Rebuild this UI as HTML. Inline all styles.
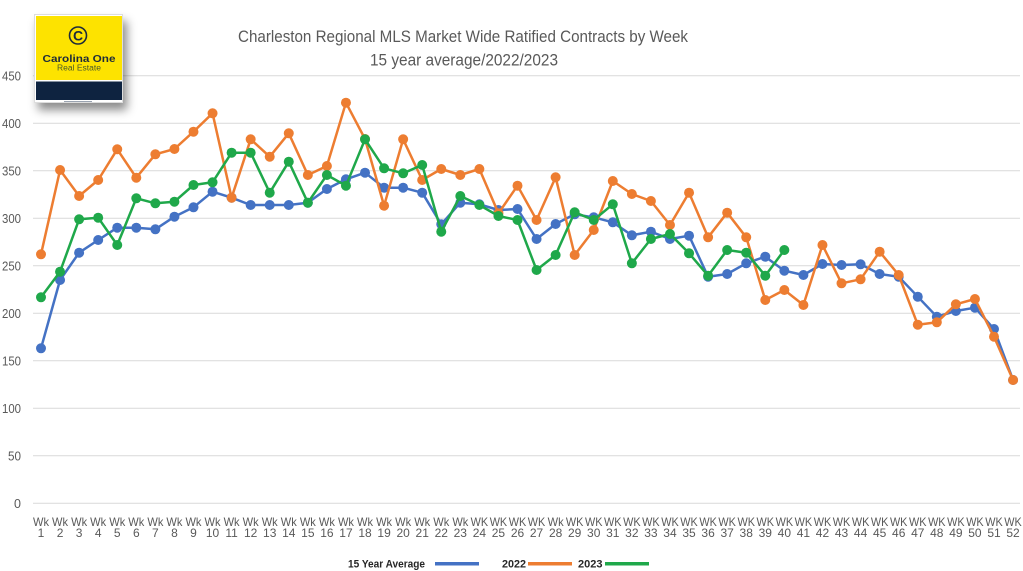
<!DOCTYPE html>
<html><head><meta charset="utf-8"><style>
html,body{margin:0;padding:0;background:#fff;}
body{width:1023px;height:571px;overflow:hidden;position:relative;font-family:"Liberation Sans",sans-serif;}
svg{position:absolute;left:0;top:0;}
.logo{position:absolute;left:34px;top:14px;width:89px;height:89px;background:#fff;box-shadow:4px 7px 9px rgba(0,0,0,0.45);border:1px solid #ddd;box-sizing:border-box;}
</style></head><body>
<svg width="1023" height="571" viewBox="0 0 1023 571" xmlns="http://www.w3.org/2000/svg">
<defs>
<marker id="mb" markerUnits="userSpaceOnUse" markerWidth="12" markerHeight="12" refX="6" refY="6" overflow="visible"><circle cx="6" cy="6" r="5" fill="#4472C4"/></marker>
<marker id="mo" markerUnits="userSpaceOnUse" markerWidth="12" markerHeight="12" refX="6" refY="6" overflow="visible"><circle cx="6" cy="6" r="5" fill="#ED7D31"/></marker>
<marker id="mg" markerUnits="userSpaceOnUse" markerWidth="12" markerHeight="12" refX="6" refY="6" overflow="visible"><circle cx="6" cy="6" r="5" fill="#1FA84A"/></marker>
</defs>
<g stroke="#d9d9d9" stroke-width="1">
<line x1="33" x2="1020" y1="75.8" y2="75.8"/>
<line x1="33" x2="1020" y1="123.3" y2="123.3"/>
<line x1="33" x2="1020" y1="170.8" y2="170.8"/>
<line x1="33" x2="1020" y1="218.3" y2="218.3"/>
<line x1="33" x2="1020" y1="265.8" y2="265.8"/>
<line x1="33" x2="1020" y1="313.3" y2="313.3"/>
<line x1="33" x2="1020" y1="360.8" y2="360.8"/>
<line x1="33" x2="1020" y1="408.3" y2="408.3"/>
<line x1="33" x2="1020" y1="455.8" y2="455.8"/>
<line x1="33" x2="1020" y1="503.3" y2="503.3"/>
</g>
<g font-size="12.5" fill="#595959" text-anchor="end">
<text x="21" y="80.3" textLength="19" lengthAdjust="spacingAndGlyphs">450</text>
<text x="21" y="127.8" textLength="19" lengthAdjust="spacingAndGlyphs">400</text>
<text x="21" y="175.3" textLength="19" lengthAdjust="spacingAndGlyphs">350</text>
<text x="21" y="222.8" textLength="19" lengthAdjust="spacingAndGlyphs">300</text>
<text x="21" y="270.3" textLength="19" lengthAdjust="spacingAndGlyphs">250</text>
<text x="21" y="317.8" textLength="19" lengthAdjust="spacingAndGlyphs">200</text>
<text x="21" y="365.3" textLength="19" lengthAdjust="spacingAndGlyphs">150</text>
<text x="21" y="412.8" textLength="19" lengthAdjust="spacingAndGlyphs">100</text>
<text x="21" y="460.3" textLength="13" lengthAdjust="spacingAndGlyphs">50</text>
<text x="21" y="507.8">0</text>
</g>
<g fill="#595959" text-anchor="middle">
<text x="463" y="42" font-size="17" textLength="450" lengthAdjust="spacingAndGlyphs">Charleston Regional MLS Market Wide Ratified Contracts by Week</text>
<text x="464" y="65.7" font-size="17" textLength="188" lengthAdjust="spacingAndGlyphs">15 year average/2022/2023</text>
</g>
<g fill="none" stroke-width="2.5" stroke-linejoin="round">
<polyline stroke="#4472C4" marker-start="url(#mb)" marker-mid="url(#mb)" marker-end="url(#mb)" points="41,348.3 60.06,280 79.12,252.7 98.18,240 117.24,227.7 136.3,227.7 155.36,229.3 174.42,216.7 193.48,207.3 212.54,191.7 231.6,197.7 250.66,205 269.72,205 288.78,205 307.84,202.7 326.9,189 345.96,179.3 365.02,172.7 384.08,187.7 403.14,187.7 422.2,192.7 441.26,224.3 460.32,202.7 479.38,204.3 498.44,210 517.5,209 536.56,239 555.62,224 574.68,214.3 593.74,217.3 612.8,222.3 631.86,235.3 650.92,231.7 669.98,239 689.04,235.7 708.1,276.7 727.16,274 746.22,263.3 765.28,256.7 784.34,270.7 803.4,275 822.46,264 841.52,265 860.58,264.3 879.64,274 898.7,276.7 917.76,296.7 936.82,316.7 955.88,311 974.94,307.7 994,329 1013.06,380"/>
<polyline stroke="#ED7D31" marker-start="url(#mo)" marker-mid="url(#mo)" marker-end="url(#mo)" points="41,254.3 60.06,170 79.12,196 98.18,180 117.24,149.3 136.3,177.7 155.36,154.3 174.42,149 193.48,131.7 212.54,113.3 231.6,197.7 250.66,139.3 269.72,156.7 288.78,133.3 307.84,175 326.9,166 345.96,102.7 365.02,139 384.08,205.7 403.14,139.3 422.2,180 441.26,169 460.32,175 479.38,169 498.44,213.3 517.5,185.7 536.56,220 555.62,177.3 574.68,255 593.74,230 612.8,181 631.86,194 650.92,201 669.98,225 689.04,192.7 708.1,237.3 727.16,212.7 746.22,237.3 765.28,300 784.34,290 803.4,305 822.46,245 841.52,283.3 860.58,279.3 879.64,251.7 898.7,275 917.76,324.7 936.82,322.3 955.88,304.3 974.94,299 994,336.7 1013.06,380"/>
<polyline stroke="#1FA84A" marker-start="url(#mg)" marker-mid="url(#mg)" marker-end="url(#mg)" points="41,297.3 60.06,271.7 79.12,219.3 98.18,217.7 117.24,245 136.3,198.3 155.36,203.3 174.42,201.7 193.48,185 212.54,182.3 231.6,152.7 250.66,152.7 269.72,192.7 288.78,161.7 307.84,202.7 326.9,175 345.96,185.7 365.02,139.3 384.08,168.3 403.14,173.3 422.2,165 441.26,231.7 460.32,196 479.38,205 498.44,216 517.5,220 536.56,270 555.62,255 574.68,212.3 593.74,220 612.8,204.3 631.86,263.3 650.92,239 669.98,234 689.04,253.3 708.1,275.7 727.16,250 746.22,252.7 765.28,275.7 784.34,250"/>
</g>
<g font-size="12" fill="#595959" text-anchor="middle">
<text x="41" y="526" textLength="16" lengthAdjust="spacingAndGlyphs">Wk</text><text x="41" y="537">1</text>
<text x="60.06" y="526" textLength="16" lengthAdjust="spacingAndGlyphs">Wk</text><text x="60.06" y="537">2</text>
<text x="79.12" y="526" textLength="16" lengthAdjust="spacingAndGlyphs">Wk</text><text x="79.12" y="537">3</text>
<text x="98.18" y="526" textLength="16" lengthAdjust="spacingAndGlyphs">Wk</text><text x="98.18" y="537">4</text>
<text x="117.24" y="526" textLength="16" lengthAdjust="spacingAndGlyphs">Wk</text><text x="117.24" y="537">5</text>
<text x="136.3" y="526" textLength="16" lengthAdjust="spacingAndGlyphs">Wk</text><text x="136.3" y="537">6</text>
<text x="155.36" y="526" textLength="16" lengthAdjust="spacingAndGlyphs">Wk</text><text x="155.36" y="537">7</text>
<text x="174.42" y="526" textLength="16" lengthAdjust="spacingAndGlyphs">Wk</text><text x="174.42" y="537">8</text>
<text x="193.48" y="526" textLength="16" lengthAdjust="spacingAndGlyphs">Wk</text><text x="193.48" y="537">9</text>
<text x="212.54" y="526" textLength="16" lengthAdjust="spacingAndGlyphs">Wk</text><text x="212.54" y="537">10</text>
<text x="231.6" y="526" textLength="16" lengthAdjust="spacingAndGlyphs">Wk</text><text x="231.6" y="537">11</text>
<text x="250.66" y="526" textLength="16" lengthAdjust="spacingAndGlyphs">Wk</text><text x="250.66" y="537">12</text>
<text x="269.72" y="526" textLength="16" lengthAdjust="spacingAndGlyphs">Wk</text><text x="269.72" y="537">13</text>
<text x="288.78" y="526" textLength="16" lengthAdjust="spacingAndGlyphs">Wk</text><text x="288.78" y="537">14</text>
<text x="307.84" y="526" textLength="16" lengthAdjust="spacingAndGlyphs">Wk</text><text x="307.84" y="537">15</text>
<text x="326.9" y="526" textLength="16" lengthAdjust="spacingAndGlyphs">Wk</text><text x="326.9" y="537">16</text>
<text x="345.96" y="526" textLength="16" lengthAdjust="spacingAndGlyphs">Wk</text><text x="345.96" y="537">17</text>
<text x="365.02" y="526" textLength="16" lengthAdjust="spacingAndGlyphs">Wk</text><text x="365.02" y="537">18</text>
<text x="384.08" y="526" textLength="16" lengthAdjust="spacingAndGlyphs">Wk</text><text x="384.08" y="537">19</text>
<text x="403.14" y="526" textLength="16" lengthAdjust="spacingAndGlyphs">Wk</text><text x="403.14" y="537">20</text>
<text x="422.2" y="526" textLength="16" lengthAdjust="spacingAndGlyphs">Wk</text><text x="422.2" y="537">21</text>
<text x="441.26" y="526" textLength="16" lengthAdjust="spacingAndGlyphs">Wk</text><text x="441.26" y="537">22</text>
<text x="460.32" y="526" textLength="16" lengthAdjust="spacingAndGlyphs">Wk</text><text x="460.32" y="537">23</text>
<text x="479.38" y="526" textLength="17.5" lengthAdjust="spacingAndGlyphs">WK</text><text x="479.38" y="537">24</text>
<text x="498.44" y="526" textLength="17.5" lengthAdjust="spacingAndGlyphs">WK</text><text x="498.44" y="537">25</text>
<text x="517.5" y="526" textLength="17.5" lengthAdjust="spacingAndGlyphs">WK</text><text x="517.5" y="537">26</text>
<text x="536.56" y="526" textLength="17.5" lengthAdjust="spacingAndGlyphs">WK</text><text x="536.56" y="537">27</text>
<text x="555.62" y="526" textLength="16" lengthAdjust="spacingAndGlyphs">Wk</text><text x="555.62" y="537">28</text>
<text x="574.68" y="526" textLength="17.5" lengthAdjust="spacingAndGlyphs">WK</text><text x="574.68" y="537">29</text>
<text x="593.74" y="526" textLength="17.5" lengthAdjust="spacingAndGlyphs">WK</text><text x="593.74" y="537">30</text>
<text x="612.8" y="526" textLength="17.5" lengthAdjust="spacingAndGlyphs">WK</text><text x="612.8" y="537">31</text>
<text x="631.86" y="526" textLength="17.5" lengthAdjust="spacingAndGlyphs">WK</text><text x="631.86" y="537">32</text>
<text x="650.92" y="526" textLength="17.5" lengthAdjust="spacingAndGlyphs">WK</text><text x="650.92" y="537">33</text>
<text x="669.98" y="526" textLength="17.5" lengthAdjust="spacingAndGlyphs">WK</text><text x="669.98" y="537">34</text>
<text x="689.04" y="526" textLength="17.5" lengthAdjust="spacingAndGlyphs">WK</text><text x="689.04" y="537">35</text>
<text x="708.1" y="526" textLength="17.5" lengthAdjust="spacingAndGlyphs">WK</text><text x="708.1" y="537">36</text>
<text x="727.16" y="526" textLength="17.5" lengthAdjust="spacingAndGlyphs">WK</text><text x="727.16" y="537">37</text>
<text x="746.22" y="526" textLength="17.5" lengthAdjust="spacingAndGlyphs">WK</text><text x="746.22" y="537">38</text>
<text x="765.28" y="526" textLength="17.5" lengthAdjust="spacingAndGlyphs">WK</text><text x="765.28" y="537">39</text>
<text x="784.34" y="526" textLength="17.5" lengthAdjust="spacingAndGlyphs">WK</text><text x="784.34" y="537">40</text>
<text x="803.4" y="526" textLength="17.5" lengthAdjust="spacingAndGlyphs">WK</text><text x="803.4" y="537">41</text>
<text x="822.46" y="526" textLength="17.5" lengthAdjust="spacingAndGlyphs">WK</text><text x="822.46" y="537">42</text>
<text x="841.52" y="526" textLength="17.5" lengthAdjust="spacingAndGlyphs">WK</text><text x="841.52" y="537">43</text>
<text x="860.58" y="526" textLength="17.5" lengthAdjust="spacingAndGlyphs">WK</text><text x="860.58" y="537">44</text>
<text x="879.64" y="526" textLength="17.5" lengthAdjust="spacingAndGlyphs">WK</text><text x="879.64" y="537">45</text>
<text x="898.7" y="526" textLength="17.5" lengthAdjust="spacingAndGlyphs">WK</text><text x="898.7" y="537">46</text>
<text x="917.76" y="526" textLength="17.5" lengthAdjust="spacingAndGlyphs">WK</text><text x="917.76" y="537">47</text>
<text x="936.82" y="526" textLength="17.5" lengthAdjust="spacingAndGlyphs">WK</text><text x="936.82" y="537">48</text>
<text x="955.88" y="526" textLength="17.5" lengthAdjust="spacingAndGlyphs">WK</text><text x="955.88" y="537">49</text>
<text x="974.94" y="526" textLength="17.5" lengthAdjust="spacingAndGlyphs">WK</text><text x="974.94" y="537">50</text>
<text x="994" y="526" textLength="17.5" lengthAdjust="spacingAndGlyphs">WK</text><text x="994" y="537">51</text>
<text x="1013.06" y="526" textLength="17.5" lengthAdjust="spacingAndGlyphs">WK</text><text x="1013.06" y="537">52</text>
</g>
<g font-size="11" font-weight="bold" fill="#262626">
<text x="348" y="567.5" textLength="77" lengthAdjust="spacingAndGlyphs">15 Year Average</text>
<text x="502" y="567.5" textLength="24" lengthAdjust="spacingAndGlyphs">2022</text>
<text x="578" y="567.5" textLength="24.5" lengthAdjust="spacingAndGlyphs">2023</text>
</g>
<g stroke-width="3.5">
<line x1="435" x2="479" y1="563.7" y2="563.7" stroke="#4472C4"/>
<line x1="528" x2="572" y1="563.7" y2="563.7" stroke="#ED7D31"/>
<line x1="605" x2="649" y1="563.7" y2="563.7" stroke="#1FA84A"/>
</g>
</svg>
<div class="logo">
<svg width="89" height="89" viewBox="0 0 89 89" style="position:absolute;left:-1px;top:-1px;">
<rect x="2" y="2" width="86" height="64" fill="#FDE300"/>
<rect x="2" y="67.5" width="86" height="18.5" fill="#0E2340"/>
<rect x="30" y="87" width="28" height="1" fill="#9aa3b0"/>
<circle cx="44" cy="21.5" r="8.5" fill="none" stroke="#1d2b3a" stroke-width="1.6"/>
<text x="44" y="26.5" font-size="14" font-weight="bold" fill="#1d2b3a" text-anchor="middle">C</text>
<text x="45" y="48" font-size="10" font-weight="bold" fill="#1d2b3a" text-anchor="middle" textLength="73" lengthAdjust="spacingAndGlyphs">Carolina One</text>
<text x="45" y="56.5" font-size="8" fill="#4a5a2a" text-anchor="middle" textLength="44" lengthAdjust="spacingAndGlyphs">Real Estate</text>
</svg>
</div>
</body></html>
